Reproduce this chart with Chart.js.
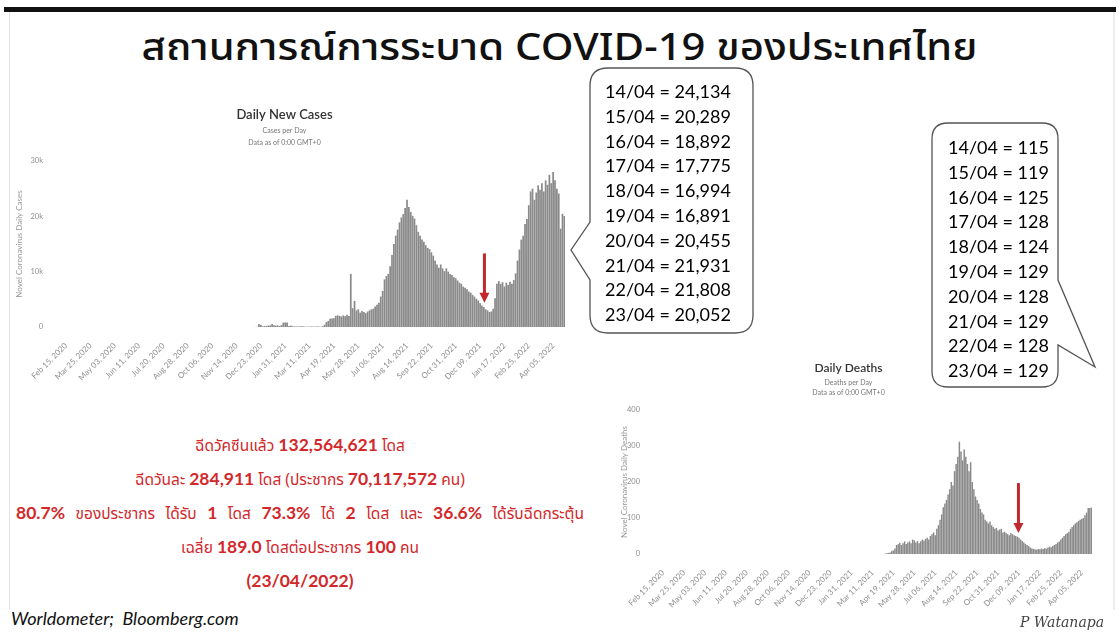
<!DOCTYPE html>
<html lang="th">
<head>
<meta charset="utf-8">
<title>สถานการณ์การระบาด COVID-19 ของประเทศไทย</title>
<script src="https://cdn.jsdelivr.net/npm/chart.js@4.4.1/dist/chart.umd.min.js"></script>
<style>
  html, body { margin: 0; padding: 0; background: #fff; }
  body {
    width: 1120px; height: 635px; position: relative; overflow: hidden;
    font-family: "Noto Sans Thai", "Noto Sans Thai UI", Tahoma, Lato, "Noto Sans", sans-serif;
  }
  .topline { position: absolute; left: 4px; top: 7px; width: 1112px; height: 5px; background: #111; }
  .frame { position: absolute; left: 9px; top: 12px; width: 1103px; height: 598px;
           border-left: 1px solid #e2e2e2; border-right: 2px solid #ececec; }
  h1 { position: absolute; left: 0; top: 20px; width: 1120px; margin: 0; text-align: center;
       font-size: 38px; font-weight: 500; color: #111; transform: scaleX(1.1); transform-origin: 565px 0; }
  canvas { position: absolute; }
  #casesChart { left: 4px; top: 100px; }
  #deathsChart { left: 605px; top: 355px; }
  svg.callouts { position: absolute; left: 0; top: 0; z-index: 2; }
  .callout-text { position: absolute; z-index: 3; font-family: Lato, "Noto Sans", sans-serif;
                  font-size: 18px; line-height: 24.8px; color: #000; white-space: pre; }
  .vaccine { position: absolute; left: 0; top: 428px; width: 600px; text-align: center; color: #d2282b; z-index: 1; }
  .vaccine div { height: 34px; line-height: 34px; font-size: 15.5px; white-space: nowrap; }
  .vaccine b { font-family: Lato, "Noto Sans", sans-serif; font-size: 17.5px; font-weight: 700; }
  .vaccine .wide { word-spacing: 6.5px; }
  .source { position: absolute; left: 11px; top: 607px; font-family: Lato, "Noto Sans", sans-serif;
            font-style: italic; font-size: 18px; color: #111; }
  .sign { position: absolute; left: 1020px; top: 614px; font-family: "DejaVu Serif", serif;
          font-style: italic; font-size: 14px; color: #444; }
</style>
</head>
<body>
<div class="topline"></div>
<div class="frame"></div>
<h1>สถานการณ์การระบาด COVID-19 ของประเทศไทย</h1>

<canvas id="casesChart" width="572" height="300"></canvas>
<canvas id="deathsChart" width="500" height="270"></canvas>

<svg class="callouts" width="1120" height="635">
  <path d="M 608 68 H 735 Q 753 68 753 86 V 315 Q 753 333 735 333 H 608 Q 590 333 590 315 V 280 L 571 250 L 590 222 V 86 Q 590 68 608 68 Z"
        fill="#fff" stroke="#555" stroke-width="1.3"/>
  <path d="M 948 123 H 1042 Q 1058 123 1058 139 V 280 L 1095 367 L 1058 345 V 371 Q 1058 387 1042 387 H 948 Q 932 387 932 371 V 139 Q 932 123 948 123 Z"
        fill="#fff" stroke="#555" stroke-width="1.3"/>
</svg>
<div class="callout-text" id="casesNote" style="left:605px; top:79px;"></div>
<div class="callout-text" id="deathsNote" style="left:948px; top:135px;"></div>

<div class="vaccine">
  <div>ฉีดวัคซีนแล้ว <b>132,564,621</b> โดส</div>
  <div>ฉีดวันละ <b>284,911</b> โดส (ประชากร <b>70,117,572</b> คน)</div>
  <div class="wide"><b>80.7%</b> ของประชากร ได้รับ <b>1</b> โดส <b>73.3%</b> ได้ <b>2</b> โดส และ <b>36.6%</b> ได้รับฉีดกระตุ้น</div>
  <div>เฉลี่ย <b>189.0</b> โดสต่อประชากร <b>100</b> คน</div>
  <div><b>(23/04/2022)</b></div>
</div>

<div class="source">Worldometer;&nbsp; Bloomberg.com</div>
<div class="sign">P Watanapa</div>

<script>
// แกน x นับเป็นวัน: วันที่ 0 = 15 ก.พ. 2020, วันสุดท้าย = 23 เม.ย. 2022
const lastDay = 798;
const tickStep = 39;
const tickLabels = ['Feb 15, 2020', 'Mar 25, 2020', 'May 03, 2020', 'Jun 11, 2020', 'Jul 20, 2020',
    'Aug 28, 2020', 'Oct 06, 2020', 'Nov 14, 2020', 'Dec 23, 2020', 'Jan 31, 2021', 'Mar 11, 2021',
    'Apr 19, 2021', 'May 28, 2021', 'Jul 06, 2021', 'Aug 14, 2021', 'Sep 22, 2021', 'Oct 31, 2021',
    'Dec 09, 2021', 'Jan 17, 2022', 'Feb 25, 2022', 'Apr 05, 2022'];

// ข้อมูลรายวัน เก็บทุก ๆ 3 วัน
const stepDays = 3;

// ผู้ติดเชื้อรายใหม่ เริ่มวันที่ 300 (11 ธ.ค. 2020)
const caseStartDay = 300;
const caseValues = [
    10, 15, 30, 550, 380, 120, 180, 210, 250, 300,                       // 300
    520, 300, 250, 280, 200, 350, 800, 820, 830, 200,                    // 330
    250, 150, 120, 100, 90, 110, 120, 80, 60, 70,                        // 360
    70, 100, 80, 60, 70, 80, 60, 130, 400, 900,                          // 390
    1100, 1500, 1550, 1600, 2000, 2100, 2000, 1900, 2100, 1950,          // 420
    2200, 2000, 9600, 3400, 4700, 3000, 3200, 2600, 2900, 2700,          // 450
    2500, 2800, 3000, 3200, 3300, 3700, 4000, 4400, 5500, 6500,          // 480
    8600, 9200, 9600, 11000, 13000, 15000, 16500, 17600, 18900, 19800,   // 510
    20400, 21500, 23000, 21700, 20800, 20100, 19600, 18400, 17200, 16500, // 540
    15800, 15400, 14800, 14300, 14100, 13500, 12900, 12000, 11300, 10700, // 570
    11300, 10600, 10100, 10600, 10000, 9600, 9400, 9000, 8800, 8400,     // 600
    8000, 7800, 7300, 7100, 6800, 6400, 6200, 5800, 5500, 5100,          // 630
    4800, 4300, 3900, 3600, 3200, 3000, 2700, 2800, 3300, 5200,          // 660
    7800, 8300, 7800, 8100, 7300, 8000, 7600, 8200, 7800, 8500,          // 690
    9700, 12000, 14000, 15800, 16500, 18600, 19500, 22000, 24500, 25000, // 720
    23000, 24300, 25600, 24800, 26000, 24500, 26500, 25700, 27500, 26000, // 750
    28000, 26500, 25000, 24134, 17775, 20455, 20052                       // 780
];

// ผู้เสียชีวิตรายวัน เริ่มวันที่ 408 (1 เม.ย. 2021)
const deathStartDay = 408;
const deathValues = [
    0, 0, 1, 2, 3, 4, 8, 10, 15, 25,            // 408
    27, 31, 25, 30, 35, 28, 32, 35, 30, 40,     // 438
    38, 32, 36, 30, 35, 40, 37, 42, 45, 40,     // 468
    50, 55, 60, 52, 70, 80, 95, 110, 130, 140,  // 498
    150, 165, 180, 200, 190, 230, 250, 270, 312, 285, // 528
    260, 290, 270, 250, 230, 255, 200, 180, 160, 150, // 558
    140, 125, 115, 110, 95, 90, 85, 90, 80, 75, // 588
    70, 72, 65, 68, 70, 60, 62, 58, 55, 52,     // 618
    58, 55, 52, 50, 48, 45, 40, 36, 32, 28,     // 648
    25, 22, 18, 15, 14, 13, 12, 14, 13, 15,     // 678
    14, 16, 15, 18, 20, 19, 22, 25, 28, 32,     // 708
    35, 40, 45, 50, 55, 58, 62, 70, 75, 80,     // 738
    85, 88, 92, 95, 98, 100, 108, 115, 128, 128, 129 // 768
];

// ตัวเลข 10 วันล่าสุดในกล่องข้อความ
const noteDates = ['14/04', '15/04', '16/04', '17/04', '18/04', '19/04', '20/04', '21/04', '22/04', '23/04'];
const noteCases = [24134, 20289, 18892, 17775, 16994, 16891, 20455, 21931, 21808, 20052];
const noteDeaths = [115, 119, 125, 128, 124, 129, 128, 129, 128, 129];

Chart.defaults.font.family = 'Lato, "Noto Sans", sans-serif';

// ลูกศรสีแดงชี้ลง วาดตามสเกลของกราฟ
const arrowPlugin = {
    id: 'downArrow',
    afterDatasetsDraw(chart, args, opts) {
        const { ctx, scales: { x, y } } = chart;
        const px = x.getPixelForValue(opts.day);
        const top = y.getPixelForValue(opts.from);
        const tip = y.getPixelForValue(opts.to);
        ctx.save();
        ctx.strokeStyle = opts.color;
        ctx.fillStyle = opts.color;
        ctx.lineWidth = 3;
        ctx.beginPath();
        ctx.moveTo(px, top);
        ctx.lineTo(px, tip - 8);
        ctx.stroke();
        ctx.beginPath();
        ctx.moveTo(px - 5, tip - 10);
        ctx.lineTo(px + 5, tip - 10);
        ctx.lineTo(px, tip);
        ctx.closePath();
        ctx.fill();
        ctx.restore();
    }
};

function toPoints(start, values) {
    return values.map((v, i) => ({ x: start + i * stepDays, y: v }));
}

function buildChart(el, cfg) {
    return new Chart(el, {
        type: 'bar',
        data: {
            datasets: [{
                data: toPoints(cfg.start, cfg.values),
                backgroundColor: '#8a8a8a',
                borderWidth: 0,
                barPercentage: 1,
                categoryPercentage: 0.92
            }]
        },
        plugins: [arrowPlugin],
        options: {
            responsive: false,
            animation: false,
            layout: { padding: { right: cfg.padRight } },
            plugins: {
                legend: { display: false },
                tooltip: { enabled: false },
                title: {
                    display: true,
                    text: cfg.title,
                    color: '#333',
                    font: { size: cfg.titleSize, weight: '600' },
                    padding: { top: cfg.titleTop, bottom: 2 }
                },
                subtitle: {
                    display: true,
                    text: cfg.subtitle,
                    color: '#777',
                    font: { size: 7, lineHeight: cfg.subLine },
                    padding: { top: 0, bottom: cfg.subBottom }
                },
                downArrow: cfg.arrow
            },
            scales: {
                x: {
                    type: 'linear',
                    min: 0,
                    max: lastDay + 1,
                    offset: false,
                    grid: { display: false },
                    border: { display: false },
                    afterBuildTicks: s => { s.ticks = tickLabels.map((_, i) => ({ value: i * tickStep })); },
                    afterFit: s => { s.height = cfg.xHeight; },
                    ticks: {
                        autoSkip: false,
                        minRotation: 45,
                        maxRotation: 45,
                        color: '#8f8f8f',
                        font: { size: 8 },
                        padding: 6,
                        callback: (v, i) => tickLabels[i]
                    }
                },
                y: {
                    min: 0,
                    max: cfg.yMax,
                    grid: { display: false },
                    border: { display: false },
                    afterFit: s => { s.width = cfg.yWidth; },
                    ticks: {
                        stepSize: cfg.yStep,
                        color: '#8f8f8f',
                        font: { size: 7.5 },
                        padding: 15,
                        callback: cfg.yFormat
                    },
                    title: {
                        display: true,
                        text: cfg.yTitle,
                        color: '#999',
                        font: { size: 8 },
                        padding: { top: cfg.yTitlePad, bottom: 0 }
                    }
                }
            }
        }
    });
}

buildChart(document.getElementById('casesChart'), {
    start: caseStartDay,
    values: caseValues,
    title: 'Daily New Cases',
    titleSize: 13,
    titleTop: 7,
    subtitle: ['Cases per Day', 'Data as of 0:00 GMT+0'],
    subLine: 1.7,
    subBottom: 12.6,
    padRight: 11,
    xHeight: 73,
    yWidth: 62,
    yMax: 30000,
    yStep: 10000,
    yFormat: v => v === 0 ? '0' : (v / 1000) + 'k',
    yTitle: 'Novel Coronavirus Daily Cases',
    yTitlePad: 11,
    arrow: { day: 670, from: 13300, to: 4400, color: '#c0282d' }
});

buildChart(document.getElementById('deathsChart'), {
    start: deathStartDay,
    values: deathValues,
    title: 'Daily Deaths',
    titleSize: 12,
    titleTop: 6,
    subtitle: ['Deaths per Day', 'Data as of 0:00 GMT+0'],
    subLine: 1.43,
    subBottom: 12.6,
    padRight: 13,
    xHeight: 71,
    yWidth: 58,
    yMax: 400,
    yStep: 100,
    yFormat: v => String(v),
    yTitle: 'Novel Coronavirus Daily Deaths',
    yTitlePad: 15,
    arrow: { day: 662, from: 197, to: 58, color: '#c0282d' }
});

// ข้อความในกล่อง
document.getElementById('casesNote').textContent =
    noteDates.map((d, i) => d + ' = ' + noteCases[i].toLocaleString('en-US')).join('\n');
document.getElementById('deathsNote').textContent =
    noteDates.map((d, i) => d + ' = ' + noteDeaths[i]).join('\n');
</script>
</body>
</html>
